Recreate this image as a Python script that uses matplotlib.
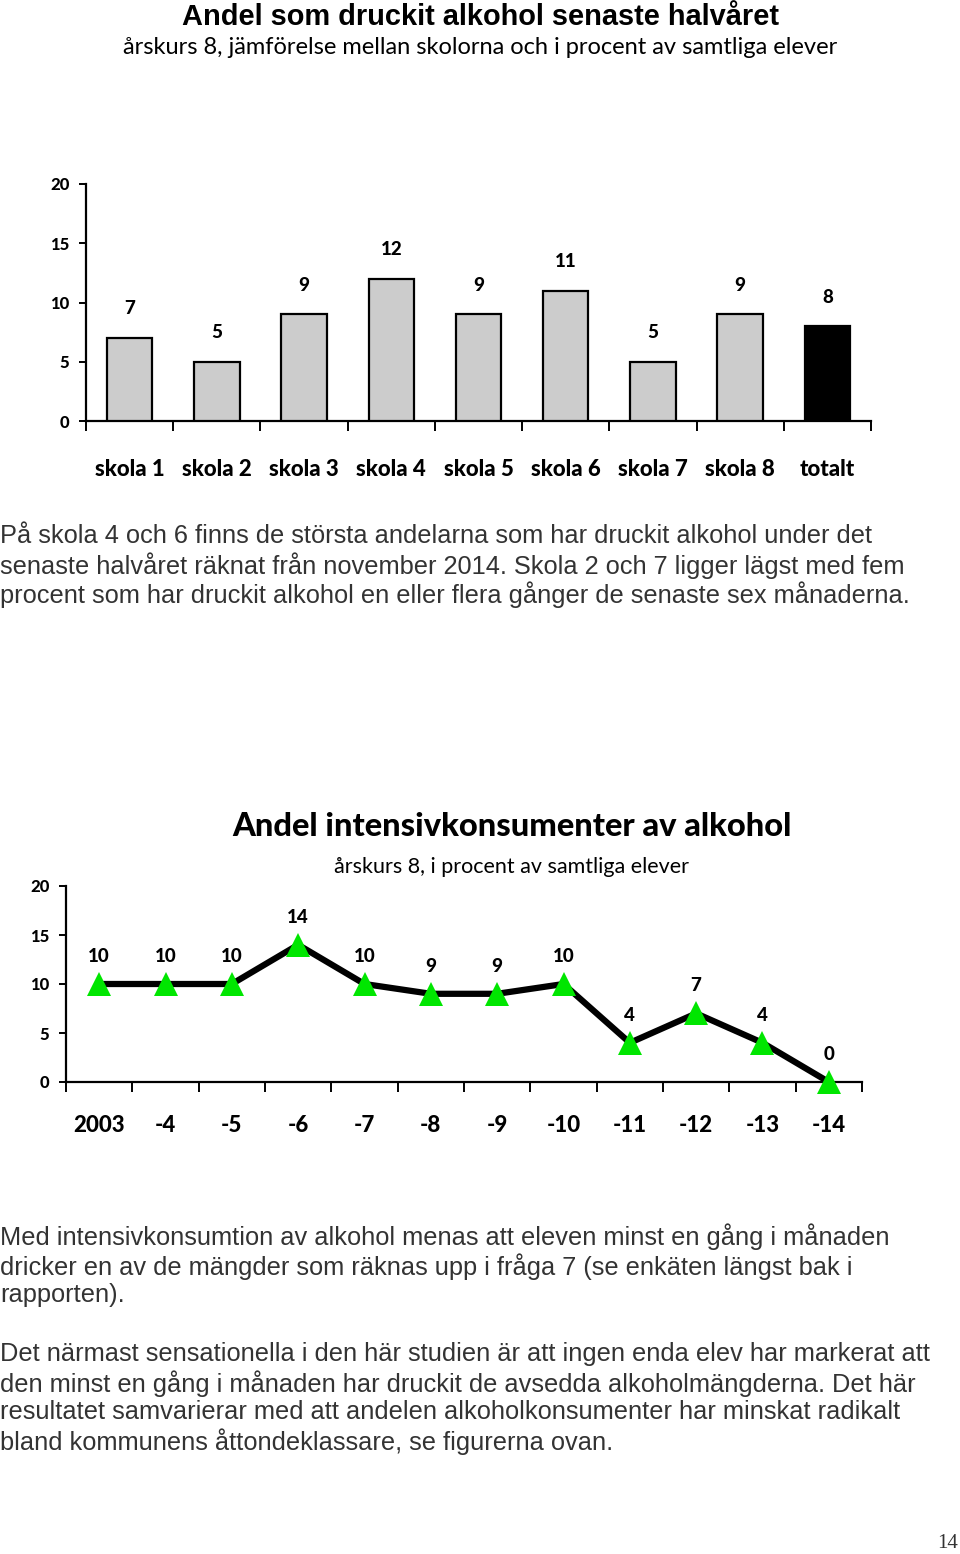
import numpy as np
from matplotlib import pyplot as plt

# data: chart 1
schools = ["skola 1", "skola 2", "skola 3", "skola 4", "skola 5",
           "skola 6", "skola 7", "skola 8", "totalt"]
drank_pct = [7, 5, 9, 12, 9, 11, 5, 9, 8]

# data: chart 2
years = ["2003", "-4", "-5", "-6", "-7", "-8", "-9", "-10", "-11", "-12", "-13", "-14"]
intensive_pct = [10, 10, 10, 14, 10, 9, 9, 10, 4, 7, 4, 0]

text1 = ["På skola 4 och 6 finns de största andelarna som har druckit alkohol under det",
         "senaste halvåret räknat från november 2014. Skola 2 och 7 ligger lägst med fem",
         "procent som har druckit alkohol en eller flera gånger de senaste sex månaderna."]
text2 = ["Med intensivkonsumtion av alkohol menas att eleven minst en gång i månaden",
         "dricker en av de mängder som räknas upp i fråga 7 (se enkäten längst bak i",
         "rapporten)."]
text3 = ["Det närmast sensationella i den här studien är att ingen enda elev har markerat att",
         "den minst en gång i månaden har druckit de avsedda alkoholmängderna. Det här",
         "resultatet samvarierar med att andelen alkoholkonsumenter har minskat radikalt",
         "bland kommunens åttondeklassare, se figurerna ovan."]

W, H = 960, 1554
HUM = ["Lato", "DejaVu Sans"]
ARIAL = ["Liberation Sans", "DejaVu Sans"]
HEAVY = 900


def fy(y):
    return 1 - y / H


def style_axes(ax, n, pad):
    for s in ["top", "right"]:
        ax.spines[s].set_visible(False)
    for s in ["left", "bottom"]:
        ax.spines[s].set_linewidth(1.6)
    ax.set_xlim(-0.5, n - 0.5)
    ax.set_ylim(0, 20)
    ax.set_yticks([0, 5, 10, 15, 20])
    ax.tick_params(axis="y", length=5, width=1.4, pad=7)
    ax.set_xticks(np.arange(n))
    ax.set_xticks(np.arange(n + 1) - 0.5, minor=True)
    ax.tick_params(axis="x", which="major", length=0, pad=pad)
    ax.tick_params(axis="x", which="minor", length=7, width=1.4, direction="out")
    for lab in ax.get_yticklabels():
        lab.set_fontfamily(HUM)
        lab.set_fontweight(HEAVY)
        lab.set_fontsize(12)


fig = plt.figure(figsize=(W / 100, H / 100), dpi=100)

# ---- chart 1
fig.text(0.5, fy(17), "Andel som druckit alkohol senaste halvåret", ha="center", va="center",
         family=ARIAL, weight="bold", fontsize=20.9)
fig.text(0.5, fy(47), "årskurs 8, jämförelse mellan skolorna och i procent av samtliga elever",
         ha="center", va="center", family=HUM, fontsize=17)

ax1 = fig.add_axes([86 / W, 1 - 421 / H, 785 / W, 237 / H])
x1 = np.arange(len(schools))
colors = ["#cccccc"] * (len(schools) - 1) + ["black"]
ax1.bar(x1, drank_pct, width=0.52, color=colors, edgecolor="black", linewidth=1.6, zorder=3)
for xi, v in zip(x1, drank_pct):
    ax1.annotate(str(v), (xi, v), xytext=(0, 21), textcoords="offset points",
                 ha="center", va="center", family=HUM, weight=HEAVY, fontsize=13.5)
style_axes(ax1, len(schools), 27)
ax1.set_xticklabels(schools, family=HUM, weight=HEAVY, fontsize=16)

for i, line in enumerate(text1):
    fig.text(0.0, fy(536 + 29.2 * i), line, ha="left", va="center", family=ARIAL,
             fontsize=18.3, color="#333333")

# ---- chart 2
fig.text(512 / W, fy(826), "Andel intensivkonsumenter av alkohol", ha="center", va="center",
         family=HUM, weight=HEAVY, fontsize=23.5)
fig.text(512 / W, fy(867), "årskurs 8, i procent av samtliga elever", ha="center", va="center",
         family=HUM, fontsize=15.5)

ax2 = fig.add_axes([66 / W, 1 - 1082 / H, 796 / W, 196 / H])
x2 = np.arange(len(years))
ax2.plot(x2, intensive_pct, color="black", linewidth=4.5, zorder=3, clip_on=False)
ax2.plot(x2, intensive_pct, linestyle="none", marker="^", markersize=17,
         color="#00e600", markeredgewidth=0, zorder=4, clip_on=False)
for xi, v in zip(x2, intensive_pct):
    ax2.annotate(str(v), (xi, v), xytext=(0, 20), textcoords="offset points",
                 ha="center", va="center", family=HUM, weight=HEAVY, fontsize=13.5)
style_axes(ax2, len(years), 24)
ax2.set_xticklabels(years, family=HUM, weight=HEAVY, fontsize=16)

for i, line in enumerate(text2):
    fig.text(0.0, fy(1237 + 29.2 * i), line, ha="left", va="center", family=ARIAL,
             fontsize=18.3, color="#333333")
for i, line in enumerate(text3):
    fig.text(0.0, fy(1354 + 29.2 * i), line, ha="left", va="center", family=ARIAL,
             fontsize=18.3, color="#333333")

fig.text(948 / W, fy(1543), "14", ha="center", va="center", family=["Liberation Serif"],
         fontsize=15, color="#333333")

fig.savefig("out.png", dpi=100)
